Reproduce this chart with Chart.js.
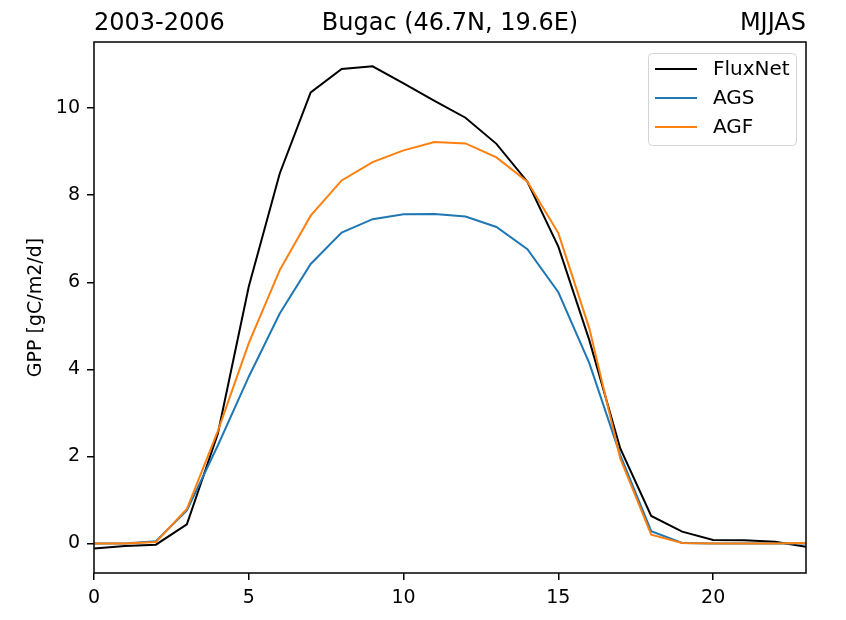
<!DOCTYPE html>
<html>
<head>
<meta charset="utf-8">
<script src="https://cdn.jsdelivr.net/npm/chart.js@4.4.1/dist/chart.umd.min.js"></script>
<style>
  html, body { margin: 0; padding: 0; background: #fff; }
  #wrap { width: 846px; height: 620px; }
</style>
</head>
<body>
<div id="wrap"><canvas id="gpp" width="846" height="620"></canvas></div>
<script>
// ============================================================
// Ciclo diário médio de GPP — Bugac, MJJAS 2003-2006
// ============================================================

// ── Dados (hora do dia x GPP em gC/m2/d)
const horas   = [0, 1, 2, 3, 4, 5, 6, 7, 8, 9, 10, 11, 12, 13, 14, 15, 16, 17, 18, 19, 20, 21, 22, 23];
const fluxnet = [-0.12, -0.06, -0.03, 0.44, 2.52, 5.90, 8.50, 10.36, 10.90, 10.96, 10.57, 10.17, 9.78, 9.18, 8.31, 6.82, 4.67, 2.18, 0.63, 0.27, 0.08, 0.07, 0.04, -0.08];
const ags     = [0.00, 0.00, 0.05, 0.76, 2.25, 3.83, 5.28, 6.42, 7.14, 7.45, 7.56, 7.57, 7.51, 7.27, 6.76, 5.77, 4.14, 2.03, 0.28, 0.01, 0.00, 0.00, 0.00, 0.00];
const agf     = [0.00, 0.00, 0.03, 0.79, 2.58, 4.60, 6.28, 7.53, 8.34, 8.76, 9.03, 9.22, 9.19, 8.87, 8.31, 7.13, 4.94, 1.95, 0.20, 0.01, 0.00, 0.00, 0.00, 0.01];

const xTicks = [0, 5, 10, 15, 20];
const yTicks = [0, 2, 4, 6, 8, 10];
const xMin = 0, xMax = 23;
const yMin = -0.68, yMax = 11.52;

const tituloEsq    = '2003-2006';
const tituloCentro = 'Bugac (46.7N, 19.6E)';
const tituloDir    = 'MJJAS';
const rotuloY      = 'GPP [gC/m2/d]';

const FONTE = '"DejaVu Sans", sans-serif';

const pontos = serie => horas.map((h, i) => ({ x: h, y: serie[i] }));

// ── Moldura completa (4 lados) por cima das linhas
const molduraPlugin = {
  id: 'moldura',
  afterDatasetsDraw(chart) {
    const { ctx, chartArea: a } = chart;
    ctx.save();
    ctx.strokeStyle = '#000';
    ctx.lineWidth = 1.5;
    ctx.strokeRect(a.left, a.top, a.right - a.left, a.bottom - a.top);
    ctx.restore();
  }
};

// ── Três títulos: esquerda, centro, direita
const titulosPlugin = {
  id: 'titulos',
  afterDraw(chart) {
    const { ctx, chartArea: a } = chart;
    const y = a.top - 12;
    ctx.save();
    ctx.font = '24px ' + FONTE;
    ctx.fillStyle = '#000';
    ctx.textBaseline = 'alphabetic';
    ctx.textAlign = 'left';   ctx.fillText(tituloEsq, a.left, y);
    ctx.textAlign = 'center'; ctx.fillText(tituloCentro, (a.left + a.right) / 2, y);
    ctx.textAlign = 'right';  ctx.fillText(tituloDir, a.right, y);
    ctx.restore();
  }
};

// ── Legenda dentro da área do gráfico (canto superior direito)
const legendaPlugin = {
  id: 'legenda',
  afterDraw(chart) {
    const { ctx, chartArea: a } = chart;
    const ds = chart.data.datasets;
    const x0 = a.right - 158, y0 = a.top + 11, w = 148, h = 92;
    ctx.save();
    ctx.fillStyle = 'rgba(255,255,255,0.8)';
    ctx.strokeStyle = '#d4d4d4';
    ctx.lineWidth = 1;
    ctx.beginPath();
    ctx.roundRect(x0 + 0.5, y0 + 0.5, w, h, 4);
    ctx.fill();
    ctx.stroke();
    ctx.font = '20px ' + FONTE;
    ctx.textBaseline = 'middle';
    ctx.textAlign = 'left';
    ds.forEach((d, i) => {
      const yy = y0 + 16 + i * 29;
      ctx.strokeStyle = d.borderColor;
      ctx.lineWidth = 2;
      ctx.beginPath();
      ctx.moveTo(x0 + 7, yy);
      ctx.lineTo(x0 + 49, yy);
      ctx.stroke();
      ctx.fillStyle = '#000';
      ctx.fillText(d.label, x0 + 65, yy + 1);
    });
    ctx.restore();
  }
};

const eixoTicks = { color: '#000', font: { family: FONTE, size: 19 }, padding: 7, autoSkip: false, maxRotation: 0 };
const eixoGrid  = { display: true, drawOnChartArea: false, drawTicks: true, tickLength: 7, color: '#000', lineWidth: 1.5 };

new Chart(document.getElementById('gpp').getContext('2d'), {
  type: 'line',
  data: {
    datasets: [
      { label: 'FluxNet', data: pontos(fluxnet), borderColor: '#000000', order: 3 },
      { label: 'AGS',     data: pontos(ags),     borderColor: '#1f77b4', order: 2 },
      { label: 'AGF',     data: pontos(agf),     borderColor: '#ff7f0e', order: 1 }
    ]
  },
  options: {
    responsive: false,
    animation: false,
    devicePixelRatio: 1,
    layout: { padding: { top: 42, right: 40, left: 0, bottom: 0 } },
    elements: {
      line: { borderWidth: 2, tension: 0, fill: false },
      point: { radius: 0, hoverRadius: 0 }
    },
    plugins: { legend: { display: false }, tooltip: { enabled: false }, title: { display: false } },
    scales: {
      x: {
        type: 'linear', min: xMin, max: xMax,
        ticks: eixoTicks, grid: eixoGrid, border: { display: false },
        afterBuildTicks: s => { s.ticks = xTicks.map(v => ({ value: v })); },
        afterFit: s => { s.height = 47; }
      },
      y: {
        type: 'linear', min: yMin, max: yMax,
        ticks: eixoTicks, grid: eixoGrid, border: { display: false },
        title: { display: true, text: rotuloY, color: '#000', font: { family: FONTE, size: 19 }, padding: { top: 25, bottom: 0 } },
        afterBuildTicks: s => { s.ticks = yTicks.map(v => ({ value: v })); },
        afterFit: s => { s.width = 94; }
      }
    }
  },
  plugins: [molduraPlugin, titulosPlugin, legendaPlugin]
});
</script>
</body>
</html>
